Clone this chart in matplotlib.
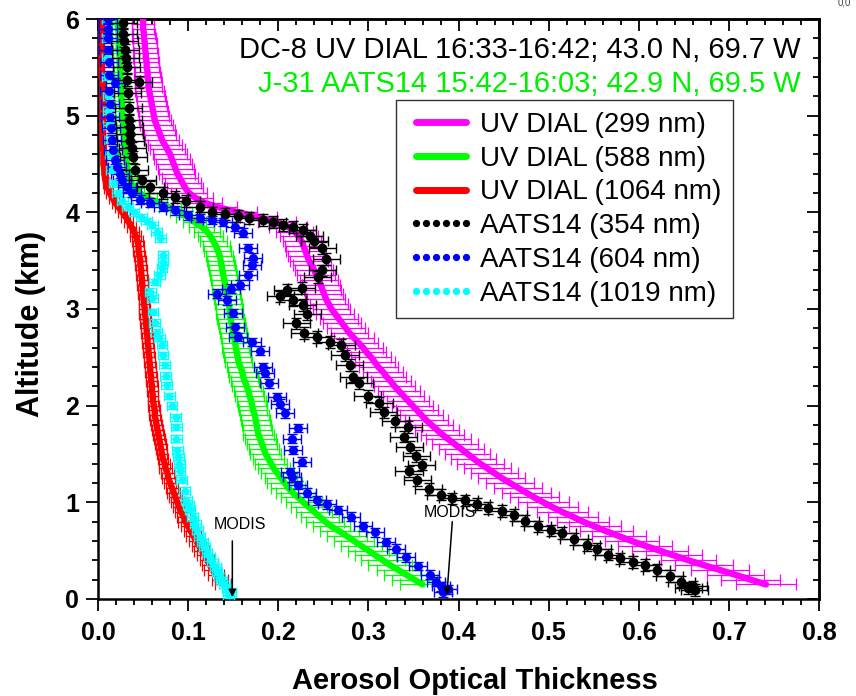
import numpy as np
import matplotlib
matplotlib.use("Agg")
import matplotlib.pyplot as plt
from matplotlib.lines import Line2D

plt.rcParams['font.family'] = ['Liberation Sans', 'DejaVu Sans']

# ---- UV DIAL profiles (DC-8), 0.05 km vertical sampling ----
dial_alt = np.round(np.arange(0.15, 6.0001, 0.05), 2)

dial_299 = [0.741, 0.724, 0.707, 0.690, 0.672, 0.655, 0.639, 0.623, 0.607, 0.592,
            0.578, 0.564, 0.551, 0.538, 0.527, 0.515, 0.504, 0.494, 0.484, 0.475,
            0.466, 0.457, 0.448, 0.440, 0.432, 0.424, 0.417, 0.410, 0.403, 0.396,
            0.389, 0.382, 0.376, 0.370, 0.364, 0.359, 0.354, 0.349, 0.344, 0.339,
            0.334, 0.329, 0.325, 0.320, 0.316, 0.311, 0.307, 0.303, 0.298, 0.294,
            0.289, 0.284, 0.279, 0.275, 0.271, 0.267, 0.263, 0.259, 0.256, 0.253,
            0.251, 0.249, 0.247, 0.245, 0.242, 0.240, 0.237, 0.234, 0.232, 0.230,
            0.228, 0.226, 0.223, 0.218, 0.211, 0.199, 0.178, 0.156, 0.134, 0.118,
            0.108, 0.101, 0.097, 0.094, 0.091, 0.088, 0.086, 0.084, 0.082, 0.080,
            0.077, 0.074, 0.071, 0.069, 0.067, 0.065, 0.063, 0.062, 0.061, 0.060,
            0.059, 0.058, 0.057, 0.056, 0.056, 0.055, 0.055, 0.054, 0.054, 0.053,
            0.053, 0.052, 0.052, 0.051, 0.051, 0.050, 0.050, 0.050]
err_299 = [0.033, 0.033, 0.032, 0.032, 0.032, 0.031, 0.031, 0.031, 0.030, 0.030,
           0.030, 0.029, 0.029, 0.029, 0.028, 0.028, 0.028, 0.028, 0.027, 0.027,
           0.027, 0.027, 0.026, 0.026, 0.026, 0.026, 0.025, 0.025, 0.025, 0.025,
           0.025, 0.024, 0.024, 0.024, 0.024, 0.024, 0.023, 0.023, 0.023, 0.023,
           0.023, 0.023, 0.022, 0.022, 0.022, 0.022, 0.022, 0.022, 0.022, 0.022,
           0.022, 0.022, 0.021, 0.021, 0.021, 0.021, 0.021, 0.021, 0.021, 0.021,
           0.021, 0.021, 0.021, 0.021, 0.021, 0.021, 0.021, 0.021, 0.021, 0.021,
           0.021, 0.021, 0.021, 0.021, 0.021, 0.021, 0.021, 0.020, 0.020, 0.020,
           0.020, 0.020, 0.020, 0.020, 0.020, 0.020, 0.020, 0.020, 0.020, 0.019,
           0.019, 0.019, 0.019, 0.018, 0.018, 0.018, 0.018, 0.017, 0.017, 0.017,
           0.016, 0.016, 0.016, 0.015, 0.015, 0.015, 0.014, 0.014, 0.014, 0.014,
           0.013, 0.013, 0.013, 0.013, 0.012, 0.012, 0.012, 0.012]

dial_588 = [0.360, 0.351, 0.342, 0.333, 0.324, 0.316, 0.308, 0.300, 0.292, 0.284,
            0.276, 0.268, 0.259, 0.252, 0.246, 0.240, 0.234, 0.228, 0.222, 0.216,
            0.211, 0.207, 0.203, 0.199, 0.195, 0.192, 0.189, 0.186, 0.184, 0.182,
            0.180, 0.178, 0.177, 0.176, 0.175, 0.174, 0.172, 0.171, 0.170, 0.168,
            0.167, 0.165, 0.163, 0.161, 0.160, 0.158, 0.156, 0.155, 0.154, 0.153,
            0.152, 0.151, 0.150, 0.149, 0.148, 0.147, 0.146, 0.146, 0.145, 0.144,
            0.143, 0.142, 0.141, 0.140, 0.139, 0.138, 0.137, 0.136, 0.135, 0.133,
            0.131, 0.128, 0.125, 0.121, 0.115, 0.107, 0.100, 0.092, 0.080, 0.066,
            0.054, 0.046, 0.041, 0.037, 0.035, 0.034, 0.033, 0.032, 0.031, 0.031,
            0.030, 0.030, 0.029, 0.029, 0.028, 0.028, 0.028, 0.027, 0.027, 0.027,
            0.026, 0.026, 0.026, 0.025, 0.025, 0.025, 0.025, 0.024, 0.024, 0.024,
            0.024, 0.023, 0.023, 0.023, 0.023, 0.022, 0.022, 0.022]
err_588 = [0.025, 0.025, 0.025, 0.024, 0.024, 0.024, 0.023, 0.023, 0.023, 0.022,
           0.022, 0.022, 0.021, 0.021, 0.021, 0.020, 0.020, 0.020, 0.019, 0.019,
           0.019, 0.019, 0.018, 0.018, 0.018, 0.018, 0.017, 0.017, 0.017, 0.017,
           0.017, 0.017, 0.016, 0.016, 0.016, 0.016, 0.016, 0.016, 0.016, 0.016,
           0.016, 0.016, 0.016, 0.016, 0.016, 0.015, 0.015, 0.015, 0.015, 0.015,
           0.015, 0.015, 0.015, 0.015, 0.015, 0.015, 0.015, 0.015, 0.015, 0.015,
           0.015, 0.015, 0.015, 0.015, 0.015, 0.015, 0.015, 0.015, 0.015, 0.015,
           0.015, 0.015, 0.014, 0.014, 0.014, 0.013, 0.013, 0.012, 0.012, 0.011,
           0.011, 0.010, 0.010, 0.010, 0.009, 0.009, 0.009, 0.009, 0.009, 0.009,
           0.009, 0.009, 0.008, 0.008, 0.008, 0.008, 0.008, 0.008, 0.008, 0.008,
           0.008, 0.008, 0.008, 0.007, 0.007, 0.007, 0.007, 0.007, 0.007, 0.007,
           0.007, 0.007, 0.007, 0.007, 0.007, 0.007, 0.007, 0.007]

dial_1064 = [0.139, 0.135, 0.131, 0.127, 0.124, 0.121, 0.118, 0.115, 0.112, 0.109,
             0.106, 0.103, 0.100, 0.097, 0.095, 0.092, 0.090, 0.088, 0.086, 0.084,
             0.082, 0.080, 0.078, 0.077, 0.075, 0.074, 0.072, 0.071, 0.070, 0.069,
             0.068, 0.067, 0.066, 0.065, 0.064, 0.063, 0.063, 0.062, 0.061, 0.061,
             0.060, 0.060, 0.059, 0.059, 0.058, 0.058, 0.057, 0.057, 0.056, 0.056,
             0.055, 0.055, 0.054, 0.054, 0.053, 0.053, 0.052, 0.052, 0.051, 0.051,
             0.050, 0.050, 0.049, 0.049, 0.048, 0.048, 0.047, 0.047, 0.046, 0.045,
             0.045, 0.044, 0.042, 0.040, 0.037, 0.034, 0.031, 0.027, 0.023, 0.019,
             0.016, 0.013, 0.011, 0.009, 0.008, 0.007, 0.007, 0.006, 0.006, 0.006,
             0.006, 0.005, 0.005, 0.005, 0.005, 0.005, 0.005, 0.005, 0.005, 0.005,
             0.005, 0.005, 0.005, 0.005, 0.005, 0.004, 0.004, 0.004, 0.004, 0.004,
             0.004, 0.004, 0.004, 0.004, 0.004, 0.004, 0.004, 0.004]
err_1064 = [0.009, 0.009, 0.009, 0.009, 0.009, 0.008, 0.008, 0.008, 0.008, 0.008,
            0.008, 0.008, 0.008, 0.008, 0.007, 0.007, 0.007, 0.007, 0.007, 0.007,
            0.007, 0.007, 0.007, 0.007, 0.007, 0.006, 0.006, 0.006, 0.006, 0.006,
            0.006, 0.006, 0.006, 0.006, 0.006, 0.006, 0.006, 0.006, 0.006, 0.006,
            0.006, 0.006, 0.006, 0.006, 0.006, 0.006, 0.006, 0.006, 0.006, 0.006,
            0.006, 0.006, 0.006, 0.006, 0.006, 0.006, 0.006, 0.006, 0.006, 0.006,
            0.006, 0.006, 0.006, 0.006, 0.006, 0.006, 0.006, 0.006, 0.006, 0.006,
            0.006, 0.006, 0.006, 0.005, 0.005, 0.005, 0.005, 0.005, 0.004, 0.004,
            0.004, 0.004, 0.004, 0.003, 0.003, 0.003, 0.003, 0.003, 0.003, 0.003,
            0.003, 0.003, 0.003, 0.003, 0.003, 0.003, 0.003, 0.003, 0.003, 0.003,
            0.003, 0.003, 0.003, 0.003, 0.003, 0.003, 0.003, 0.003, 0.003, 0.003,
            0.003, 0.003, 0.003, 0.003, 0.003, 0.003, 0.003, 0.003]

# ---- AATS14 sunphotometer profiles (J-31) ----
aats354_aot = [0.662, 0.655, 0.660, 0.647, 0.634, 0.620, 0.607, 0.593, 0.579, 0.566,
               0.554, 0.542, 0.528, 0.515, 0.502, 0.488, 0.474, 0.461, 0.448, 0.433,
               0.420, 0.407, 0.393, 0.380, 0.367, 0.354, 0.345, 0.359, 0.353, 0.346,
               0.339, 0.344, 0.330, 0.317, 0.312, 0.299, 0.290, 0.283, 0.279, 0.274,
               0.270, 0.257, 0.243, 0.229, 0.220, 0.232, 0.227, 0.216, 0.202, 0.210,
               0.226, 0.244, 0.249, 0.253, 0.249, 0.240, 0.235, 0.227, 0.216, 0.205,
               0.194, 0.183, 0.168, 0.155, 0.141, 0.127, 0.113, 0.098, 0.085, 0.072,
               0.058, 0.049, 0.041, 0.039, 0.038, 0.036, 0.035, 0.035, 0.034, 0.034,
               0.033, 0.045, 0.032, 0.032, 0.031, 0.030, 0.029, 0.028, 0.028]
aats354_alt = [0.09, 0.11, 0.13, 0.18, 0.24, 0.30, 0.35, 0.38, 0.42, 0.46,
               0.52, 0.56, 0.62, 0.68, 0.71, 0.75, 0.81, 0.87, 0.91, 0.94,
               0.98, 1.02, 1.04, 1.08, 1.14, 1.23, 1.32, 1.39, 1.48, 1.57,
               1.68, 1.78, 1.84, 1.93, 2.03, 2.10, 2.23, 2.30, 2.42, 2.52,
               2.63, 2.66, 2.71, 2.75, 2.85, 2.95, 3.04, 3.09, 3.13, 3.20,
               3.22, 3.33, 3.40, 3.52, 3.63, 3.70, 3.76, 3.82, 3.85, 3.87,
               3.90, 3.92, 3.94, 3.96, 3.98, 4.00, 4.06, 4.12, 4.16, 4.20,
               4.26, 4.33, 4.44, 4.57, 4.67, 4.74, 4.81, 4.88, 4.95, 5.08,
               5.23, 5.35, 5.37, 5.50, 5.60, 5.68, 5.77, 5.85, 5.96]

aats604_aot = [0.383, 0.388, 0.380, 0.375, 0.368, 0.355, 0.342, 0.331, 0.320, 0.307,
               0.294, 0.281, 0.266, 0.254, 0.243, 0.232, 0.222, 0.215, 0.213, 0.226,
               0.216, 0.215, 0.222, 0.207, 0.202, 0.199, 0.190, 0.185, 0.183, 0.180,
               0.171, 0.155, 0.152, 0.150, 0.143, 0.132, 0.148, 0.157, 0.166, 0.171,
               0.172, 0.166, 0.161, 0.152, 0.139, 0.126, 0.113, 0.100, 0.085, 0.072,
               0.058, 0.047, 0.038, 0.032, 0.027, 0.024, 0.021, 0.019, 0.017, 0.015,
               0.014, 0.013, 0.013, 0.012, 0.019, 0.012, 0.012, 0.011, 0.011, 0.011,
               0.011]
aats604_alt = [0.07, 0.10, 0.13, 0.18, 0.25, 0.34, 0.43, 0.52, 0.59, 0.69,
               0.75, 0.85, 0.92, 0.98, 1.02, 1.10, 1.18, 1.26, 1.31, 1.42,
               1.54, 1.66, 1.77, 1.92, 2.02, 2.09, 2.23, 2.34, 2.40, 2.57,
               2.66, 2.71, 2.81, 2.96, 3.09, 3.16, 3.21, 3.25, 3.35, 3.46,
               3.53, 3.63, 3.79, 3.85, 3.90, 3.92, 3.94, 3.97, 4.02, 4.06,
               4.10, 4.13, 4.20, 4.26, 4.33, 4.40, 4.47, 4.54, 4.64, 4.75,
               4.87, 4.99, 5.12, 5.25, 5.34, 5.42, 5.55, 5.68, 5.80, 5.90,
               6.00]

aats1019_aot = [0.145, 0.147, 0.143, 0.140, 0.137, 0.135, 0.132, 0.130, 0.127, 0.124,
                0.121, 0.118, 0.116, 0.113, 0.110, 0.108, 0.105, 0.102, 0.100, 0.098,
                0.096, 0.093, 0.091, 0.090, 0.089, 0.088, 0.087, 0.087, 0.086, 0.082,
                0.079, 0.076, 0.075, 0.074, 0.072, 0.071, 0.068, 0.065, 0.063, 0.061,
                0.060, 0.058, 0.063, 0.068, 0.071, 0.072, 0.072, 0.069, 0.065, 0.060,
                0.054, 0.048, 0.040, 0.033, 0.027, 0.022, 0.018, 0.015, 0.014, 0.013,
                0.012, 0.011, 0.011, 0.010, 0.010, 0.010, 0.010]
aats1019_alt = [0.04, 0.07, 0.11, 0.15, 0.19, 0.23, 0.28, 0.33, 0.38, 0.43,
                0.48, 0.54, 0.59, 0.64, 0.71, 0.78, 0.85, 0.92, 0.97, 1.02,
                1.12, 1.23, 1.32, 1.40, 1.47, 1.54, 1.66, 1.78, 1.88, 2.00,
                2.10, 2.21, 2.31, 2.42, 2.52, 2.63, 2.70, 2.76, 2.86, 2.97,
                3.11, 3.18, 3.28, 3.35, 3.42, 3.49, 3.56, 3.73, 3.80, 3.87,
                3.91, 3.95, 4.00, 4.06, 4.12, 4.20, 4.30, 4.44, 4.60, 4.75,
                4.90, 5.05, 5.20, 5.40, 5.60, 5.80, 6.00]

aats_xerr = {"354": 0.015, "604": 0.010, "1019": 0.006}
aats_yerr = {"354": 0.06, "604": 0.045, "1019": 0.035}

# MODIS column AOT (at the surface) for the two arrows
modis_aot = [0.149, 0.387]

legend_labels = ["UV DIAL (299 nm)", "UV DIAL (588 nm)", "UV DIAL (1064 nm)",
                 "AATS14 (354 nm)", "AATS14 (604 nm)", "AATS14 (1019 nm)"]

MAGENTA, GREEN, RED = "#FF00FF", "#00FF00", "#FF0000"
BLACK, BLUE, CYAN = "#000000", "#0000FF", "#00FFFF"

fig = plt.figure(figsize=(8.56, 6.96), dpi=100)
ax = fig.add_axes([0.1145, 0.1394, 0.8425, 0.8333])

# DIAL profiles: dense horizontal error bars under a thick line
for vals, errs, col in [(dial_299, err_299, MAGENTA),
                        (dial_588, err_588, GREEN),
                        (dial_1064, err_1064, RED)]:
    ax.errorbar(vals, dial_alt, xerr=errs, fmt='none', ecolor=col,
                elinewidth=0.9, capsize=4.5, capthick=0.9, zorder=2)
    ax.plot(vals, dial_alt, color=col, lw=4.6, solid_capstyle='round', zorder=3)

# AATS14 profiles: dots with x and y error bars
for xs, ys, key, col, ms in [(aats1019_aot, aats1019_alt, "1019", CYAN, 4.5),
                             (aats604_aot, aats604_alt, "604", BLUE, 5.5),
                             (aats354_aot, aats354_alt, "354", BLACK, 6.0)]:
    ax.errorbar(xs, ys, xerr=aats_xerr[key], yerr=aats_yerr[key], fmt='o',
                color=col, ms=ms, mec=col, ecolor=col, elinewidth=1.0,
                capsize=3.5, capthick=1.0, zorder=4)

# MODIS arrows
ax.annotate("", xy=(modis_aot[0], 0.02), xytext=(modis_aot[0], 0.60),
            arrowprops=dict(arrowstyle='-|>', color='black', lw=1.1,
                            mutation_scale=11, shrinkA=0, shrinkB=0), zorder=6)
ax.text(0.157, 0.77, "MODIS", fontsize=11.5, ha='center', va='center', zorder=6)
ax.annotate("", xy=(modis_aot[1], 0.04), xytext=(0.393, 0.80),
            arrowprops=dict(arrowstyle='-|>', color='black', lw=1.1,
                            mutation_scale=11, shrinkA=0, shrinkB=0), zorder=6)
ax.text(0.390, 0.89, "MODIS", fontsize=11.5, ha='center', va='center', zorder=6)

ax.set_xlim(0.0, 0.8)
ax.set_ylim(0.0, 6.0)
ax.set_xticks(np.arange(0, 0.81, 0.1))
ax.set_xticklabels([f"{v:.1f}" for v in np.arange(0, 0.81, 0.1)])
ax.set_yticks(np.arange(0, 7, 1))
ax.set_xticks(np.arange(0, 0.801, 0.02), minor=True)
ax.set_yticks(np.arange(0, 6.01, 0.2), minor=True)

for sp in ax.spines.values():
    sp.set_linewidth(1.8)

ax.tick_params(which='both', direction='out', width=1.3, top=False, right=False,
               labelsize=18)
ax.tick_params(axis='x', pad=7)
ax.tick_params(axis='y', pad=5)
ax.tick_params(which='major', length=8.5)
ax.tick_params(which='minor', length=4.5)
for lab in ax.get_xticklabels() + ax.get_yticklabels():
    lab.set_fontweight('bold')

# mirrored ticks pointing inward on top and right
top = ax.secondary_xaxis('top')
top.set_xticks(np.arange(0, 0.81, 0.1))
top.set_xticks(np.arange(0, 0.801, 0.02), minor=True)
top.tick_params(which='both', direction='in', width=1.3, labeltop=False)
top.tick_params(which='major', length=8.5)
top.tick_params(which='minor', length=4.5)
top.spines['top'].set_linewidth(1.8)
right = ax.secondary_yaxis('right')
right.set_yticks(np.arange(0, 7, 1))
right.set_yticks(np.arange(0, 6.01, 0.2), minor=True)
right.tick_params(which='both', direction='in', width=1.3, labelright=False)
right.tick_params(which='major', length=8.5)
right.tick_params(which='minor', length=4.5)
right.spines['right'].set_linewidth(1.8)

ax.set_xlabel("Aerosol Optical Thickness", fontsize=21, fontweight='bold')
ax.xaxis.set_label_coords(0.523, -0.118)
ax.set_ylabel("Altitude (km)", fontsize=22, fontweight='bold')
ax.yaxis.set_label_coords(-0.072, 0.474)

ax.text(0.974, 0.946, "DC-8 UV DIAL 16:33-16:42; 43.0 N, 69.7 W",
        transform=ax.transAxes, ha='right', va='center', fontsize=21, color='black')
ax.text(0.974, 0.888, "J-31 AATS14 15:42-16:03; 42.9 N, 69.5 W",
        transform=ax.transAxes, ha='right', va='center', fontsize=21, color='#00EE00')

handles = [Line2D([], [], color=MAGENTA, lw=5, solid_capstyle='round'),
           Line2D([], [], color=GREEN, lw=5, solid_capstyle='round'),
           Line2D([], [], color=RED, lw=5, solid_capstyle='round'),
           Line2D([], [], color=BLACK, ls='none', marker='o', ms=4.2),
           Line2D([], [], color=BLUE, ls='none', marker='o', ms=4.2),
           Line2D([], [], color=CYAN, ls='none', marker='o', ms=4.2)]
leg = ax.legend(handles, legend_labels, loc='upper left', bbox_to_anchor=(0.413, 0.860),
                borderaxespad=0, fontsize=20, numpoints=6, handlelength=2.4,
                handletextpad=0.2, labelspacing=0.28, borderpad=0.42,
                frameon=True, fancybox=False, edgecolor='#333333', framealpha=1)
leg.get_frame().set_linewidth(1.0)
leg.set_zorder(10)

fig.text(0.978, 0.997, "0,0", fontsize=7, color='#444444', ha='left', va='center')

fig.savefig("out.png", dpi=100)
